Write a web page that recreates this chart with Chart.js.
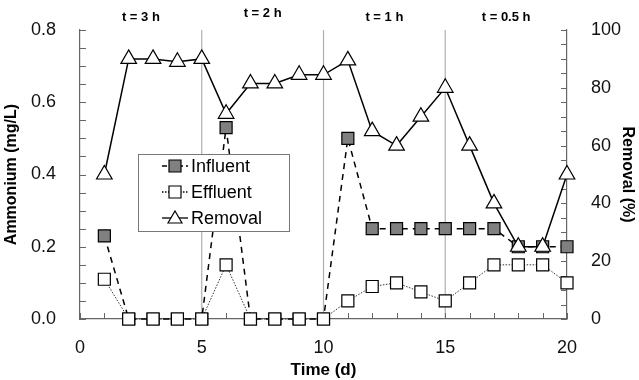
<!DOCTYPE html>
<html lang="en">
<head>
  <meta charset="UTF-8">
  <title>Ammonium removal</title>
  <script src="https://cdn.jsdelivr.net/npm/chart.js"></script>
  <style>
    body { margin: 0; background: #fff; }
    #wrap { width: 639px; height: 380px; }
  </style>
</head>
<body>
  <div id="wrap"><canvas id="chart" width="639" height="380"></canvas></div>

  <script>
    // data
    const days = [1, 2, 3, 4, 5, 6, 7, 8, 9, 10, 11, 12, 13, 14, 15, 16, 17, 18, 19, 20];
    const influent = [0.23, 0, 0, 0, 0, 0.53, 0, 0, 0, 0, 0.50, 0.25, 0.25, 0.25, 0.25, 0.25, 0.25, 0.20, 0.20, 0.20];
    const effluent = [0.11, 0, 0, 0, 0, 0.15, 0, 0, 0, 0, 0.05, 0.09, 0.10, 0.075, 0.05, 0.10, 0.15, 0.15, 0.15, 0.10];
    const removal = [50, 90, 90, 89, 90, 71, 81.5, 81.5, 84.5, 84.5, 89.5, 65, 60, 70, 80, 60, 40, 25, 25, 50];
    const phaseBreaks = [5, 10, 15];
    const phaseLabels = [
      { x: 2.5, text: 't = 3 h', dy: 0 },
      { x: 7.5, text: 't = 2 h', dy: -4 },
      { x: 12.5, text: 't = 1 h', dy: 0 },
      { x: 17.5, text: 't = 0.5 h', dy: 0 }
    ];

    const pts = arr => days.map((d, i) => ({ x: d, y: arr[i] }));
    const FONT = 'Arial, "Liberation Sans", sans-serif';
    const AXIS = '#666';

    const legendItems = [
      { label: 'Influent', style: 'rect', fill: '#808080', dash: [5, 3] },
      { label: 'Effluent', style: 'rect', fill: '#fff', dash: [1.5, 1.5] },
      { label: 'Removal', style: 'triangle', fill: '#fff', dash: [] }
    ];

    const extras = {
      id: 'extras',
      beforeDatasetsDraw(chart) {
        const { ctx, chartArea: a, scales: { x } } = chart;
        ctx.save();
        ctx.strokeStyle = '#b0b0b0';
        ctx.lineWidth = 1.2;
        phaseBreaks.forEach(v => {
          const px = x.getPixelForValue(v);
          ctx.beginPath();
          ctx.moveTo(px, a.top);
          ctx.lineTo(px, a.bottom);
          ctx.stroke();
        });
        // inward tick marks
        ctx.strokeStyle = AXIS;
        ctx.lineWidth = 1;
        ctx.beginPath();
        chart.scales.y.ticks.forEach(t => {
          const py = Math.round(chart.scales.y.getPixelForValue(t.value)) + 0.5;
          ctx.moveTo(a.left, py); ctx.lineTo(a.left + 6, py);
        });
        chart.scales.y2.ticks.forEach(t => {
          const py = Math.round(chart.scales.y2.getPixelForValue(t.value)) + 0.5;
          ctx.moveTo(a.right, py); ctx.lineTo(a.right - 6, py);
        });
        x.ticks.forEach(t => {
          const px = Math.round(x.getPixelForValue(t.value)) + 0.5;
          ctx.moveTo(px, a.bottom); ctx.lineTo(px, a.bottom - 6);
        });
        ctx.stroke();
        ctx.restore();
      },
      afterDraw(chart) {
        const { ctx, chartArea: a, scales: { x } } = chart;
        ctx.save();
        // phase labels above the plot
        ctx.fillStyle = '#000';
        ctx.font = 'bold 13px ' + FONT;
        ctx.textAlign = 'center';
        ctx.textBaseline = 'middle';
        phaseLabels.forEach(p => {
          ctx.fillText(p.text, x.getPixelForValue(p.x), 17 + p.dy);
        });

        // legend box
        const lx = a.left + 58, ly = 154, lw = 151, lh = 77;
        ctx.fillStyle = '#fff';
        ctx.fillRect(lx, ly, lw, lh);
        ctx.strokeStyle = '#777';
        ctx.lineWidth = 1;
        ctx.strokeRect(lx + 0.5, ly + 0.5, lw, lh);
        ctx.font = '18px ' + FONT;
        ctx.textAlign = 'left';
        legendItems.forEach((it, i) => {
          const cy = ly + 12 + i * 26;
          ctx.strokeStyle = '#000';
          ctx.lineWidth = it.dash.length ? 1.5 : 1.3;
          ctx.setLineDash(it.dash);
          ctx.beginPath();
          ctx.moveTo(lx + 24, cy); ctx.lineTo(lx + 50, cy);
          ctx.stroke();
          ctx.setLineDash([]);
          ctx.fillStyle = it.fill;
          ctx.lineWidth = 1.2;
          const s = 6;
          ctx.beginPath();
          if (it.style === 'rect') {
            ctx.rect(lx + 37 - s, cy - s, 2 * s, 2 * s);
          } else {
            ctx.moveTo(lx + 37, cy - 7);
            ctx.lineTo(lx + 44, cy + 5);
            ctx.lineTo(lx + 30, cy + 5);
            ctx.closePath();
          }
          ctx.fill();
          ctx.stroke();
          ctx.fillStyle = '#000';
          ctx.fillText(it.label, lx + 53, cy + 1);
        });
        ctx.restore();
      }
    };

    const tickFont = { family: FONT, size: 18 };
    const titleFont = { family: FONT, size: 16, weight: 'bold' };

    new Chart(document.getElementById('chart'), {
      type: 'line',
      data: {
        datasets: [
          {
            label: 'Removal',
            data: pts(removal),
            yAxisID: 'y2',
            order: 1,
            clip: false,
            borderColor: '#000',
            borderWidth: 1.5,
            pointStyle: 'triangle',
            pointRadius: 9,
            pointBackgroundColor: '#fff',
            pointBorderColor: '#000',
            pointBorderWidth: 1.2,
            tension: 0
          },
          {
            label: 'Effluent',
            data: pts(effluent),
            yAxisID: 'y',
            order: 2,
            clip: false,
            borderColor: '#333',
            borderWidth: 1,
            borderDash: [1.5, 1.5],
            pointStyle: 'rect',
            pointRadius: 8.5,
            pointBackgroundColor: '#fff',
            pointBorderColor: '#000',
            pointBorderWidth: 1.2,
            tension: 0
          },
          {
            label: 'Influent',
            data: pts(influent),
            yAxisID: 'y',
            order: 3,
            clip: false,
            borderColor: '#000',
            borderWidth: 1.5,
            borderDash: [6, 5],
            pointStyle: 'rect',
            pointRadius: 8.5,
            pointBackgroundColor: '#808080',
            pointBorderColor: '#000',
            pointBorderWidth: 1.2,
            tension: 0
          }
        ]
      },
      options: {
        responsive: false,
        animation: false,
        layout: { padding: { top: 30, left: 0, right: 0, bottom: 0 } },
        plugins: { legend: { display: false }, tooltip: { enabled: false } },
        scales: {
          x: {
            type: 'linear',
            min: 0, max: 20,
            grid: { display: false },
            border: { color: AXIS, width: 1.2 },
            afterFit: s => { s.height = 61; },
            ticks: {
              stepSize: 1, autoSkip: false, maxRotation: 0, padding: 10,
              color: '#111', font: tickFont,
              callback: v => (v % 5 === 0 ? String(v) : '')
            },
            title: { display: true, text: 'Time (d)', color: '#000', font: { family: FONT, size: 17, weight: 'bold' }, padding: { top: 4, bottom: -1 } }
          },
          y: {
            position: 'left',
            min: 0, max: 0.8,
            grid: { display: false },
            border: { color: AXIS, width: 1.2 },
            afterFit: s => { s.width = 80; },
            ticks: {
              stepSize: 0.05, autoSkip: false, padding: 16,
              color: '#111', font: tickFont,
              callback: v => (Math.abs(v / 0.2 - Math.round(v / 0.2)) < 1e-6 ? v.toFixed(1) : '')
            },
            title: { display: true, text: 'Ammonium (mg/L)', color: '#000', font: titleFont, padding: 2 }
          },
          y2: {
            position: 'right',
            min: 0, max: 100,
            grid: { display: false },
            border: { color: AXIS, width: 1.2 },
            afterFit: s => { s.width = 72; },
            ticks: {
              stepSize: 5, autoSkip: false, padding: 16,
              color: '#111', font: tickFont,
              callback: v => (v % 20 === 0 ? String(v) : '')
            },
            title: { display: true, text: 'Removal (%)', color: '#000', font: titleFont, padding: 2 }
          }
        }
      },
      plugins: [extras]
    });
  </script>
</body>
</html>
